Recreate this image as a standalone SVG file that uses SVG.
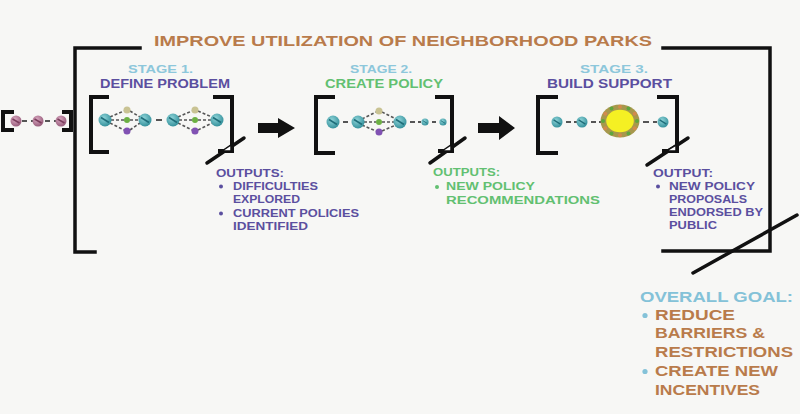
<svg xmlns="http://www.w3.org/2000/svg" xmlns:xlink="http://www.w3.org/1999/xlink" width="800" height="414" viewBox="0 0 800 414">
<style>
.t{font-family:"Liberation Sans",Arial,sans-serif;font-weight:700;}
.br{fill:none;stroke:#111;stroke-width:4;stroke-linecap:square;}
.fr{fill:none;stroke:#111;stroke-width:3.5;stroke-linecap:square;}
.sl{stroke:#111;stroke-width:3.5;stroke-linecap:round;}
.dl{stroke:#555;stroke-width:1.6;stroke-dasharray:3 2;fill:none;}
.sd{stroke:#555;stroke-width:2;}
.title{fill:#b97b4b;font-size:15.5px;}
.stg{fill:#8dc7db;font-size:11.5px;}
.pur{fill:#5b4f9f;}
.grn{fill:#62c071;}
.org{fill:#b97b4b;}
.blu{fill:#84c2d8;}
.out{font-size:10.5px;}
.goal{font-size:14.5px;}
</style>
<defs>
<radialGradient id="gT" cx="0.4" cy="0.35" r="0.7">
<stop offset="0" stop-color="#8fd4d8"/>
<stop offset="1" stop-color="#2f8d98"/>
</radialGradient>
<radialGradient id="gP" cx="0.4" cy="0.35" r="0.7">
<stop offset="0" stop-color="#d9a8c0"/>
<stop offset="1" stop-color="#945877"/>
</radialGradient>
<g id="teal">
<circle r="6.5" fill="url(#gT)"/>
<line x1="-4" y1="-2.5" x2="4" y2="2.5" stroke="#1f6e7a" stroke-width="1.6"/>
</g>
<g id="pink">
<circle r="5.5" fill="url(#gP)"/>
<line x1="-3.5" y1="-2" x2="3.5" y2="2" stroke="#7a3d5c" stroke-width="1.5"/>
</g>
</defs>
<rect width="800" height="414" fill="#f7f7f5"/>

<g id="frame">
<polyline class="fr" points="140,48 75,48 75,252 95,252"/>
<polyline class="fr" points="663,48 770,48 770,251 663,251"/>
<line class="sl" x1="693" y1="273" x2="797" y2="215"/>
<text class="t title" x="154" y="46" textLength="498" lengthAdjust="spacingAndGlyphs">IMPROVE UTILIZATION OF NEIGHBORHOOD PARKS</text>
</g>

<g id="input">
<polyline class="br" points="12,112 3,112 3,130 12,130"/>
<polyline class="br" points="64,112 71,112 71,130 64,130"/>
<line class="sd" x1="20" y1="121" x2="34" y2="121" stroke-dasharray="5 4" stroke-dashoffset="-2"/>
<line class="sd" x1="42" y1="121" x2="57" y2="121" stroke-dasharray="5 4" stroke-dashoffset="-3"/>
<use xlink:href="#pink" x="16" y="121"/>
<use xlink:href="#pink" x="38" y="121"/>
<use xlink:href="#pink" x="61" y="121"/>
</g>

<g id="stage1">
<text class="t stg" x="128" y="73" textLength="65" lengthAdjust="spacingAndGlyphs">STAGE 1.</text>
<text class="t pur" x="100" y="88" font-size="12" textLength="130" lengthAdjust="spacingAndGlyphs">DEFINE PROBLEM</text>
<polyline class="br" points="107,97 91,97 91,152 107,152"/>
<polyline class="br" points="215,97 232,97 232,151 220,151"/>
<line class="sl" x1="207" y1="163" x2="244" y2="138"/>
<path d="M222,151 L231,145 L231,151 Z" fill="#fff" stroke="#111" stroke-width="1.5"/>
<g class="dl">
<line x1="110" y1="117" x2="124" y2="111"/>
<line x1="111" y1="120" x2="124" y2="120"/>
<line x1="110" y1="123" x2="124" y2="130"/>
<line x1="130" y1="111" x2="140" y2="117"/>
<line x1="130" y1="120" x2="139" y2="120"/>
<line x1="130" y1="130" x2="140" y2="123"/>
<line x1="178" y1="117" x2="192" y2="111"/>
<line x1="179" y1="120" x2="192" y2="120"/>
<line x1="178" y1="123" x2="192" y2="130"/>
<line x1="198" y1="111" x2="212" y2="117"/>
<line x1="198" y1="120" x2="211" y2="120"/>
<line x1="198" y1="130" x2="212" y2="123"/>
</g>
<line class="sd" x1="153" y1="120" x2="165" y2="120" stroke-dasharray="6 3" stroke-dashoffset="-3"/>
<use xlink:href="#teal" x="105" y="120"/>
<use xlink:href="#teal" x="145" y="120"/>
<use xlink:href="#teal" x="173" y="120"/>
<use xlink:href="#teal" x="217" y="120"/>
<circle cx="127" cy="110" r="3.5" fill="#c9c393"/>
<circle cx="127" cy="120" r="3" fill="#6cb043"/>
<circle cx="127" cy="131" r="3.5" fill="#8152b3"/>
<circle cx="195" cy="110" r="3.5" fill="#c9c393"/>
<circle cx="195" cy="120" r="3" fill="#6cb043"/>
<circle cx="195" cy="131" r="3.5" fill="#8152b3"/>
</g>

<g id="stage2">
<text class="t stg" x="350" y="73" textLength="62" lengthAdjust="spacingAndGlyphs">STAGE 2.</text>
<text class="t grn" x="325" y="88" font-size="12" textLength="118" lengthAdjust="spacingAndGlyphs">CREATE POLICY</text>
<polyline class="br" points="333,97 316,97 316,153 333,153"/>
<polyline class="br" points="437,97 452,97 452,151 440,151"/>
<line class="sl" x1="430" y1="163" x2="465" y2="138"/>
<path d="M442,151 L451,145 L451,151 Z" fill="#fff" stroke="#111" stroke-width="1.5"/>
<g class="dl">
<line x1="362" y1="119" x2="376" y2="112"/>
<line x1="364" y1="122" x2="376" y2="122"/>
<line x1="362" y1="125" x2="376" y2="131"/>
<line x1="382" y1="112" x2="396" y2="119"/>
<line x1="382" y1="122" x2="394" y2="122"/>
<line x1="382" y1="131" x2="396" y2="125"/>
</g>
<line class="sd" x1="340" y1="122" x2="351" y2="122" stroke-dasharray="5 3" stroke-dashoffset="-3"/>
<line class="sd" x1="407" y1="122" x2="421" y2="122" stroke-dasharray="5 3" stroke-dashoffset="-3"/>
<line class="sd" x1="429" y1="122" x2="439" y2="122" stroke-dasharray="4 3" stroke-dashoffset="-3"/>
<use xlink:href="#teal" x="333" y="122"/>
<use xlink:href="#teal" x="358" y="122"/>
<use xlink:href="#teal" x="400" y="122"/>
<use xlink:href="#teal" transform="translate(425,122) scale(0.55)"/>
<use xlink:href="#teal" transform="translate(443,122) scale(0.55)"/>
<circle cx="379" cy="111" r="3.5" fill="#c9c393"/>
<circle cx="379" cy="122" r="3" fill="#6cb043"/>
<circle cx="379" cy="132" r="3.5" fill="#8152b3"/>
</g>

<g id="stage3">
<text class="t stg" x="580" y="73" textLength="68" lengthAdjust="spacingAndGlyphs">STAGE 3.</text>
<text class="t pur" x="547" y="88" font-size="12" textLength="125" lengthAdjust="spacingAndGlyphs">BUILD SUPPORT</text>
<polyline class="br" points="556,97 538,97 538,153 556,153"/>
<polyline class="br" points="659,97 677,97 677,151 664,151"/>
<line class="sl" x1="647" y1="165" x2="688" y2="138"/>
<path d="M666,151 L676,145 L676,151 Z" fill="#fff" stroke="#111" stroke-width="1.5"/>
<line class="sd" x1="563" y1="122" x2="577" y2="122" stroke-dasharray="5 3" stroke-dashoffset="-3"/>
<line class="sd" x1="588" y1="122" x2="601" y2="122" stroke-dasharray="5 3" stroke-dashoffset="-3"/>
<line class="sd" x1="639" y1="122" x2="657" y2="122" stroke-dasharray="6 4" stroke-dashoffset="-4"/>
<use xlink:href="#teal" transform="translate(557,122) scale(0.85)"/>
<use xlink:href="#teal" transform="translate(582,122) scale(0.85)"/>
<use xlink:href="#teal" transform="translate(663,122) scale(0.85)"/>
<ellipse cx="620" cy="121" rx="19.5" ry="16.5" fill="#a7984c"/>
<g fill="#5ea63e">
<circle cx="637" cy="121" r="2"/><circle cx="628.5" cy="133.4" r="2"/><circle cx="611.5" cy="133.4" r="2"/>
<circle cx="603" cy="121" r="2"/><circle cx="611.5" cy="108.6" r="2"/><circle cx="628.5" cy="108.6" r="2"/>
</g>
<g fill="#d28a4c">
<circle cx="634.7" cy="128.2" r="2"/><circle cx="620" cy="135.3" r="2"/><circle cx="605.3" cy="128.2" r="2"/>
<circle cx="605.3" cy="113.8" r="2"/><circle cx="620" cy="106.7" r="2"/><circle cx="634.7" cy="113.8" r="2"/>
</g>
<ellipse cx="620" cy="121" rx="13.8" ry="11.3" fill="#f5f023"/>
</g>

<g id="connectors">
<path id="arrow1" d="M258,123 L278,123 L278,118 L295,128 L278,138 L278,133 L258,133 Z" fill="#111"/>
<path id="arrow2" d="M478,123 L499,123 L499,116 L515,128 L499,140 L499,133 L478,133 Z" fill="#111"/>
</g>

<g id="outputs1">
<text class="t pur out" x="216" y="177" textLength="68" lengthAdjust="spacingAndGlyphs">OUTPUTS:</text>
<circle cx="221" cy="186.5" r="2" fill="#5b4f9f"/>
<text class="t pur out" x="233" y="190" textLength="85" lengthAdjust="spacingAndGlyphs">DIFFICULTIES</text>
<text class="t pur out" x="233" y="203" textLength="67" lengthAdjust="spacingAndGlyphs">EXPLORED</text>
<circle cx="221" cy="213.5" r="2" fill="#5b4f9f"/>
<text class="t pur out" x="233" y="217" textLength="126" lengthAdjust="spacingAndGlyphs">CURRENT POLICIES</text>
<text class="t pur out" x="233" y="230" textLength="75" lengthAdjust="spacingAndGlyphs">IDENTIFIED</text>
</g>

<g id="outputs2">
<text class="t grn out" x="433" y="176" textLength="67" lengthAdjust="spacingAndGlyphs">OUTPUTS:</text>
<circle cx="437" cy="187" r="2" fill="#62c071"/>
<text class="t grn out" x="446" y="190" textLength="89" lengthAdjust="spacingAndGlyphs">NEW POLICY</text>
<text class="t grn out" x="446" y="204" textLength="154" lengthAdjust="spacingAndGlyphs">RECOMMENDATIONS</text>
</g>

<g id="outputs3">
<text class="t pur out" x="653" y="177" textLength="60" lengthAdjust="spacingAndGlyphs">OUTPUT:</text>
<circle cx="658" cy="186.5" r="2" fill="#5b4f9f"/>
<text class="t pur out" x="669" y="190" textLength="86" lengthAdjust="spacingAndGlyphs">NEW POLICY</text>
<text class="t pur out" x="669" y="203" textLength="78" lengthAdjust="spacingAndGlyphs">PROPOSALS</text>
<text class="t pur out" x="669" y="216" textLength="94" lengthAdjust="spacingAndGlyphs">ENDORSED BY</text>
<text class="t pur out" x="669" y="229" textLength="48" lengthAdjust="spacingAndGlyphs">PUBLIC</text>
</g>

<g id="goal">
<text class="t blu goal" x="640" y="302" textLength="153" lengthAdjust="spacingAndGlyphs">OVERALL GOAL:</text>
<circle cx="645" cy="315.5" r="2.6" fill="#84c2d8"/>
<text class="t org goal" x="655" y="320" textLength="80" lengthAdjust="spacingAndGlyphs">REDUCE</text>
<text class="t org goal" x="655" y="338" textLength="110" lengthAdjust="spacingAndGlyphs">BARRIERS &amp;</text>
<text class="t org goal" x="655" y="357" textLength="138" lengthAdjust="spacingAndGlyphs">RESTRICTIONS</text>
<circle cx="645" cy="371.5" r="2.6" fill="#84c2d8"/>
<text class="t org goal" x="655" y="376" textLength="123" lengthAdjust="spacingAndGlyphs">CREATE NEW</text>
<text class="t org goal" x="655" y="395" textLength="105" lengthAdjust="spacingAndGlyphs">INCENTIVES</text>
</g>
</svg>
